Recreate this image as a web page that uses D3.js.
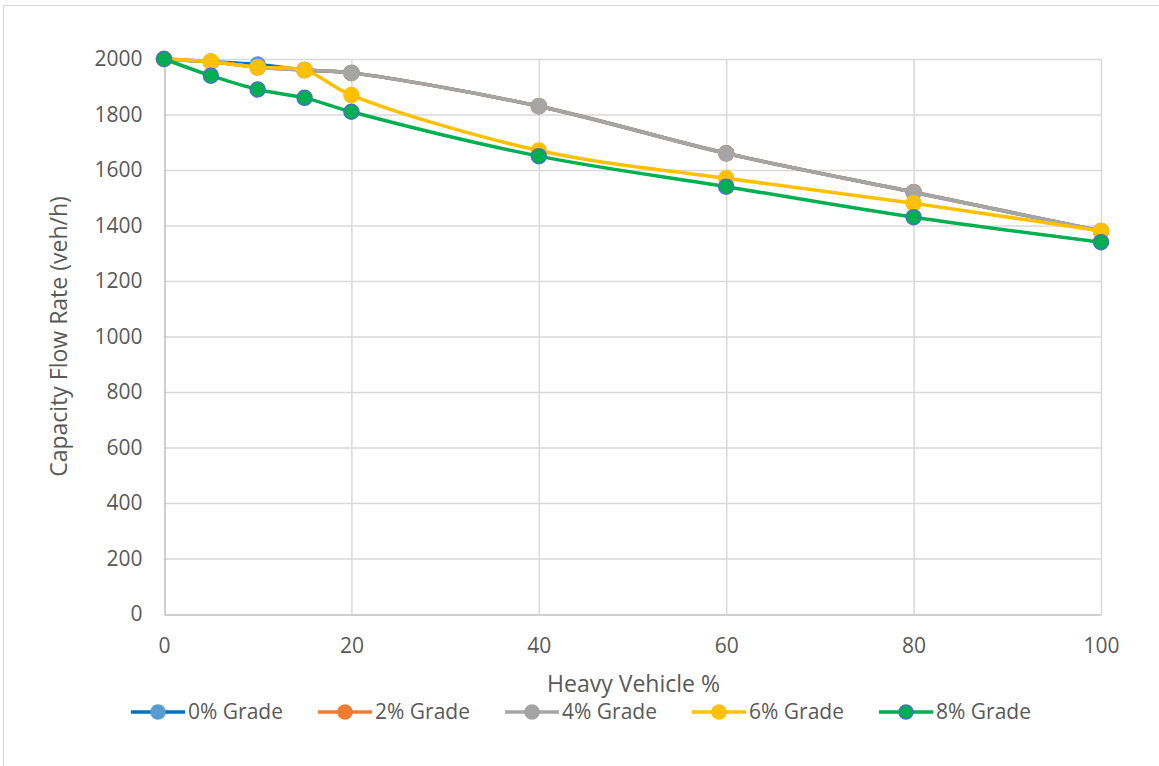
<!DOCTYPE html>
<html>
<head>
<meta charset="utf-8">
<script src="https://cdn.jsdelivr.net/npm/d3@7"></script>
<style>
  html, body { margin: 0; padding: 0; background: #fff; }
  svg { display: block; }
  text { font-family: "Open Sans", Lato, sans-serif; fill: #595959; }
</style>
</head>
<body>
<svg id="chart" width="1159" height="766"></svg>
<script>
// Heavy vehicle share (%) on the x axis
const heavyVehiclePct = [0, 5, 10, 15, 20, 40, 60, 80, 100];

// Capacity flow rate (veh/h) for each grade
const grade0 = [2000, 1990, 1980, 1960, 1950, 1830, 1660, 1520, 1380];
const grade2 = [2000, 1990, 1970, 1960, 1950, 1830, 1660, 1520, 1380];
const grade4 = [2000, 1990, 1970, 1960, 1950, 1830, 1660, 1520, 1380];
const grade6 = [2000, 1990, 1970, 1960, 1870, 1670, 1570, 1480, 1380];
const grade8 = [2000, 1940, 1890, 1860, 1810, 1650, 1540, 1430, 1340];

const seriesNames = ["0% Grade", "2% Grade", "4% Grade", "6% Grade", "8% Grade"];

const xTicks = [0, 20, 40, 60, 80, 100];
const yTicks = [0, 200, 400, 600, 800, 1000, 1200, 1400, 1600, 1800, 2000];

const series = [
  { name: seriesNames[0], values: grade0, line: "#0070C0", fill: "#5B9BD5", stroke: "#5B9BD5" },
  { name: seriesNames[1], values: grade2, line: "#ED7D31", fill: "#ED7D31", stroke: "#ED7D31" },
  { name: seriesNames[2], values: grade4, line: "#A5A5A5", fill: "#A5A5A5", stroke: "#A5A5A5" },
  { name: seriesNames[3], values: grade6, line: "#FFC000", fill: "#FFC000", stroke: "#FFC000" },
  { name: seriesNames[4], values: grade8, line: "#00B050", fill: "#00B050", stroke: "#4472C4" }
];

const svg = d3.select("#chart");

// chart frame
svg.append("rect")
  .attr("x", 3.5).attr("y", 5.5)
  .attr("width", 1170).attr("height", 780)
  .attr("fill", "#fff").attr("stroke", "#D9D9D9").attr("stroke-width", 1);

const plot = { left: 164, right: 1101, top: 59, bottom: 614 };

const x = d3.scaleLinear().domain([0, 100]).range([plot.left, plot.right]);
const y = d3.scaleLinear().domain([0, 2000]).range([plot.bottom, plot.top]);

// gridlines
const grid = svg.append("g");
grid.selectAll("line.h").data(yTicks.filter(d => d > 0)).join("line")
  .attr("x1", plot.left).attr("x2", plot.right)
  .attr("y1", d => y(d) + 0.5).attr("y2", d => y(d) + 0.5)
  .attr("stroke", "#D9D9D9").attr("stroke-width", 1.5);
grid.selectAll("line.v").data(xTicks.filter(d => d > 0)).join("line")
  .attr("x1", d => x(d) + 0.5).attr("x2", d => x(d) + 0.5)
  .attr("y1", plot.top).attr("y2", plot.bottom)
  .attr("stroke", "#D9D9D9").attr("stroke-width", 1.5);

// axes
const fmt = d3.format("d");
const xAxis = svg.append("g")
  .attr("transform", `translate(0,${plot.bottom + 0.5})`)
  .call(d3.axisBottom(x).tickValues(xTicks).tickFormat(fmt).tickSize(0).tickPadding(24));
const yAxis = svg.append("g")
  .attr("transform", `translate(${plot.left + 0.5},0)`)
  .call(d3.axisLeft(y).tickValues(yTicks).tickFormat(fmt).tickSize(0).tickPadding(22));
[xAxis, yAxis].forEach(g => {
  g.select(".domain").attr("stroke", "#BFBFBF").attr("stroke-width", 1.5);
  g.selectAll("text").style("font-size", "21px").attr("fill", "#595959")
    .style("font-family", "'Open Sans', Lato, sans-serif");
});

// axis titles
svg.append("text")
  .attr("x", (plot.left + plot.right) / 2 + 1).attr("y", 692)
  .attr("text-anchor", "middle").style("font-size", "23px")
  .text("Heavy Vehicle %");
svg.append("text")
  .attr("transform", `translate(67,${(plot.top + plot.bottom) / 2}) rotate(-90)`)
  .attr("text-anchor", "middle").style("font-size", "23px")
  .text("Capacity Flow Rate (veh/h)");

// smoothed lines and markers
const lineGen = d3.line()
  .x((d, i) => x(heavyVehiclePct[i]))
  .y(d => y(d))
  .curve(d3.curveCatmullRom.alpha(0.5));

series.forEach(s => {
  const g = svg.append("g");
  g.append("path")
    .attr("d", lineGen(s.values))
    .attr("fill", "none").attr("stroke", s.line)
    .attr("stroke-width", 3.5).attr("stroke-linejoin", "round").attr("stroke-linecap", "round");
  g.selectAll("circle").data(s.values).join("circle")
    .attr("cx", (d, i) => x(heavyVehiclePct[i]))
    .attr("cy", d => y(d))
    .attr("r", 7.5)
    .attr("fill", s.fill).attr("stroke", s.stroke).attr("stroke-width", 1.5);
});

// legend
const legend = svg.append("g").attr("transform", "translate(0,712)");
const legendStart = 131, legendStep = 187;
series.forEach((s, i) => {
  const lx = legendStart + i * legendStep;
  const item = legend.append("g");
  item.append("line")
    .attr("x1", lx).attr("x2", lx + 54)
    .attr("stroke", s.line).attr("stroke-width", 3.5);
  item.append("circle")
    .attr("cx", lx + 27).attr("cy", 0).attr("r", 7)
    .attr("fill", s.fill).attr("stroke", s.stroke).attr("stroke-width", 1.5);
  item.append("text")
    .attr("x", lx + 57).attr("y", 0).attr("dy", "0.35em")
    .style("font-size", "21px")
    .text(s.name);
});
</script>
</body>
</html>
